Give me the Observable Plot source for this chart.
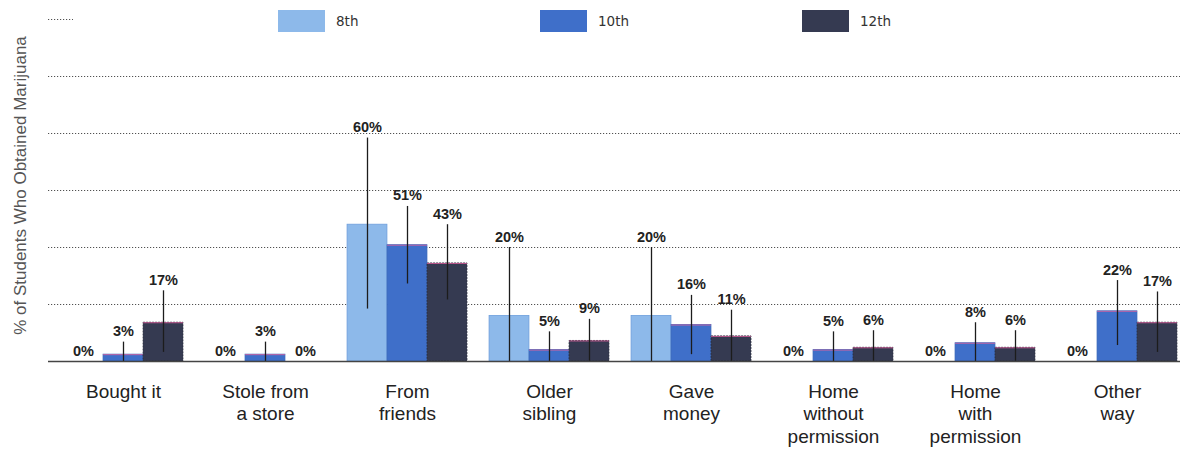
<!DOCTYPE html>
<html>
<head>
<meta charset="utf-8">
<script src="https://cdn.jsdelivr.net/npm/d3@7"></script>
<script src="https://cdn.jsdelivr.net/npm/@observablehq/plot@0.6"></script>
<style>
  body { margin: 0; background: #fff; }
  #wrap { position: relative; width: 1182px; height: 452px; }
  #legend { position: absolute; left: 73px; top: 3px; right: 0; height: 36px; background: #fff;
            padding-left: 205px; box-sizing: border-box; display: flex; align-items: center; }
  #legend .lg-swatches { margin: 0 !important; font-family: "DejaVu Sans", sans-serif !important;
            font-size: 13.5px !important; color: #333; min-height: 0 !important; }
  #legend .lg-swatch { width: 262px; margin-right: 0 !important; }
  #legend .lg-swatch > svg { margin-right: 11px !important; }
</style>
</head>
<body>
<div id="wrap"><div id="legend"></div></div>
<script>
// ---- data ----
const categories = ["Bought it", "Stole from a store", "From friends", "Older sibling",
  "Gave money", "Home without permission", "Home with permission", "Other way"];
const categoryLabels = ["Bought it", "Stole from\na store", "From\nfriends", "Older\nsibling",
  "Gave\nmoney", "Home\nwithout\npermission", "Home\nwith\npermission", "Other\nway"];
const grades = ["8th", "10th", "12th"];
const colors = ["#8db9ea", "#3f6fc9", "#353a51"];

// percentages
const pct8  = [0, 0, 60, 20, 20, 0, 0, 0];
const pct10 = [3, 3, 51, 5, 16, 5, 8, 22];
const pct12 = [17, 0, 43, 9, 11, 6, 6, 17];
// error bar lows / highs
const lo8  = [0, 0, 23, 0, 0, 0, 0, 0];
const hi8  = [0, 0, 98, 50, 50, 0, 0, 0];
const lo10 = [0, 0, 34, 0, 3, 0, 0, 7];
const hi10 = [8.5, 8.5, 68, 13, 29, 13, 17, 35.5];
const lo12 = [4, 0, 27, 0, 0, 0, 0, 4];
const hi12 = [31, 0, 60, 18.5, 22.5, 13.5, 13.5, 30.5];
const yTicks = [25, 50, 75, 100, 125, 150];
const yLabel = "% of Students Who Obtained Marijuana";

const values = [pct8, pct10, pct12];
const lows = [lo8, lo10, lo12];
const highs = [hi8, hi10, hi12];

const rows = [];
grades.forEach((g, gi) => categories.forEach((c, ci) => rows.push({
  category: c, grade: g, value: values[gi][ci], lo: lows[gi][ci], hi: highs[gi][ci]
})));

// ---- layout constants ----
const W = 1182, H = 452;
const barW = 40;
const offsets = [-40, 0, 40];
const strokes = ["#6f9fdc", "#3563b8", "#1e2233"];
const bandW = (1188 - 51) / categories.length;
const inset = (bandW - barW) / 2;

const gradeMarks = grades.flatMap((g, gi) => {
  const d = rows.filter(r => r.grade === g);
  const pos = d.filter(r => r.value > 0);
  const ms = [
    Plot.barY(pos, {x: "category", y: "value", fill: colors[gi], stroke: strokes[gi],
      strokeWidth: 0.8, strokeDasharray: gi === 2 ? "2,1" : null,
      insetLeft: inset, insetRight: inset, dx: offsets[gi]})
  ];
  if (gi > 0) ms.push(Plot.tickY(pos, {x: "category", y: "value", stroke: "#e0609e",
      strokeWidth: 1, strokeOpacity: 0.8, insetLeft: inset, insetRight: inset, dx: offsets[gi]}));
  ms.push(Plot.ruleX(d.filter(r => r.hi > 0), {x: "category", y1: "lo", y2: "hi",
      dx: offsets[gi], stroke: "#1c1c1c", strokeWidth: 1.3}));
  ms.push(Plot.text(d, {x: "category", y: r => Math.max(r.hi, r.value),
      text: r => `${r.value}%`, dx: offsets[gi], dy: -6, lineAnchor: "bottom",
      fontWeight: "bold", fontSize: 14.5, fill: "#222"}));
  return ms;
});

const chart = Plot.plot({
  width: W, height: H,
  marginTop: 19, marginBottom: 91, marginLeft: 48, marginRight: 2,
  style: {fontFamily: "'Liberation Sans', Arial, sans-serif", background: "#fff", overflow: "visible"},
  x: {domain: categories, range: [51, 1188], padding: 0},
  y: {domain: [0, 150], axis: null},
  marks: [
    Plot.gridY(yTicks, {stroke: "#333", strokeOpacity: 0.85, strokeDasharray: "1.2,1.8", strokeWidth: 1}),
    ...gradeMarks,
    Plot.ruleY([0], {stroke: "#444", strokeWidth: 1.6}),
    Plot.axisX({tickSize: 0, tickPadding: 20, label: null,
      tickFormat: c => categoryLabels[categories.indexOf(c)],
      fontSize: 19, lineHeight: 1.19, fill: "#222"}),
    Plot.text([yLabel], {text: d => d, frameAnchor: "left", textAnchor: "middle", rotate: -90,
      dx: -23, dy: -5, lineAnchor: "bottom", fontSize: 17, fill: "#555"})
  ]
});
document.getElementById("wrap").prepend(chart);

const legend = Plot.legend({
  color: {type: "ordinal", domain: grades, range: colors},
  legend: "swatches", swatchWidth: 47, swatchHeight: 22, className: "lg"
});
document.getElementById("legend").appendChild(legend);
</script>
</body>
</html>
